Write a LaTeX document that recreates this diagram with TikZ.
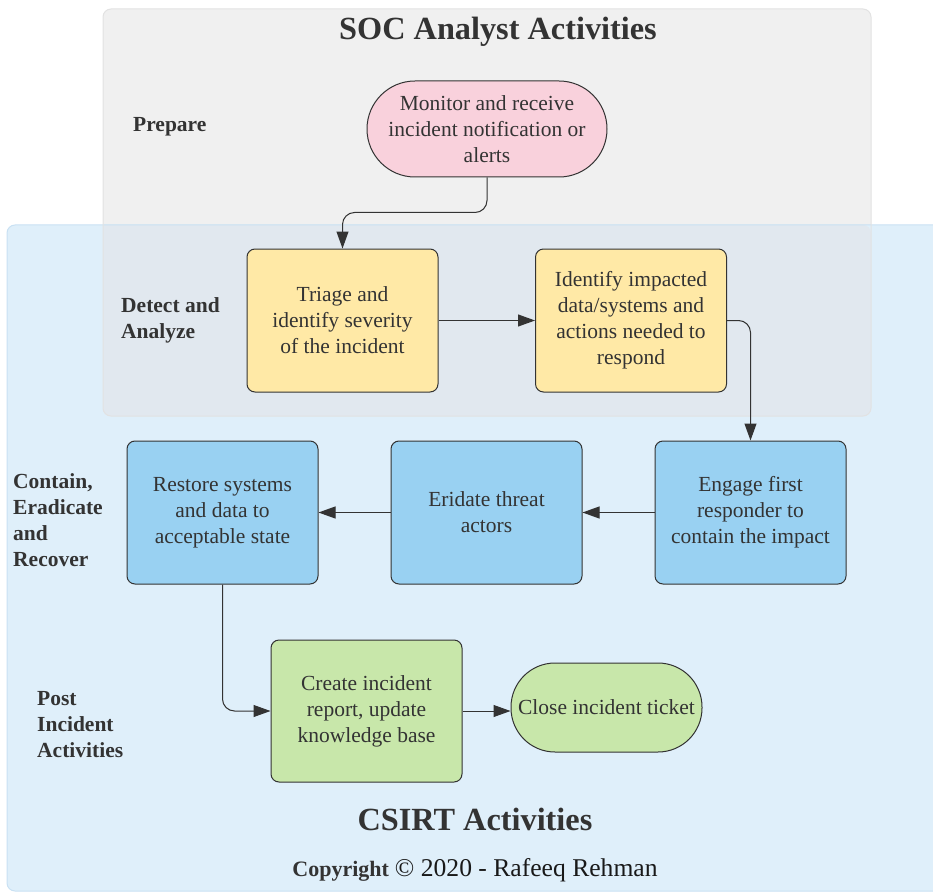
\documentclass[tikz,border=0pt]{standalone}
\usepackage{fontspec}
\setmainfont{Liberation Serif}
\usetikzlibrary{arrows.meta,calc}
\definecolor{graybg}{HTML}{F0F0F0}
\definecolor{grayln}{HTML}{E2E2E2}
\definecolor{bluebg}{HTML}{DFEFFA}
\definecolor{blueln}{HTML}{C9E1F3}
\definecolor{overlap}{HTML}{E1E8EF}
\definecolor{pinkf}{HTML}{F9D1DC}
\definecolor{yellowf}{HTML}{FFE9A6}
\definecolor{bluef}{HTML}{99D1F2}
\definecolor{greenf}{HTML}{C8E7AA}
\definecolor{ink}{HTML}{333333}
\tikzset{
  box/.style={draw=ink, line width=1pt, rounded corners=8pt, minimum width=191pt, minimum height=143pt, align=center, text=ink, font=\fontsize{21.5}{26}\selectfont, inner sep=1pt},
  stadium/.style={draw=ink, line width=1pt, align=center, text=ink, font=\fontsize{21.5}{26}\selectfont, inner sep=1pt},
  lane/.style={align=left, anchor=west, text=ink, font=\bfseries\fontsize{21.5}{26}\selectfont, inner sep=0pt},
  conn/.style={draw=ink, line width=1pt, rounded corners=12pt, -{Triangle[length=17pt,width=12pt]}},
  title/.style={text=ink, font=\bfseries\fontsize{32.3}{36}\selectfont, inner sep=0pt}
}
\begin{document}
\begin{tikzpicture}[x=1pt,y=-1pt]
\useasboundingbox (0,0) rectangle (933,893);
% backgrounds
\fill[graybg, rounded corners=8pt] (103,9) rectangle (871,416);
\fill[bluebg, rounded corners=8pt] (7,225) rectangle (960,891);
\fill[overlap, rounded corners=8pt] (103,225) -- (103,416) -- (871,416) -- (871,225) [sharp corners] -- cycle;
\draw[blueln, line width=1pt, rounded corners=8pt] (960,891) -- (7,891) -- (7,225) -- (960,225);
\draw[grayln, line width=1pt, rounded corners=8pt] (103,9) rectangle (871,416);
% titles
\node[title] (soc) at (498,32) {SOC Analyst Activities};
\node[title] (csirt) at (475,819) {CSIRT Activities};
\node[text=ink, inner sep=0pt, anchor=base] (copy) at (475,876) {{\bfseries\fontsize{22}{24}\selectfont Copyright}\hspace{6pt}{\fontsize{25.6}{28}\selectfont\color{black!90}© 2020 - Rafeeq Rehman}};
% lane labels
\node[lane] (lprep) at (133,127) {Prepare};
\node[lane] (ldet) at (121,320) {Detect and\\Analyze};
\node[lane] (lcon) at (13,520) {Contain,\\Eradicate\\and\\Recover};
\node[lane] (lpost) at (37,725) {Post\\Incident\\Activities};
% nodes
\node[stadium, fill=pinkf, rounded corners=48pt, minimum width=240pt, minimum height=96pt] (mon) at (487,129) {Monitor and receive\\incident notification or\\alerts};
\node[box, fill=yellowf] (tri) at (342.5,320.5) {Triage and\\identify severity\\of the incident};
\node[box, fill=yellowf] (ide) at (631,320.5) {Identify impacted\\data/systems and\\actions needed to\\respond};
\node[box, fill=bluef] (eng) at (750.5,512.5) {Engage first\\responder to\\contain the impact};
\node[box, fill=bluef] (eri) at (486.5,512.5) {Eridate threat\\actors};
\node[box, fill=bluef] (res) at (222.5,512.5) {Restore systems\\and data to\\acceptable state};
\node[box, fill=greenf, minimum height=142pt] (cre) at (366.5,711) {Create incident\\report, update\\knowledge base};
\node[stadium, fill=greenf, rounded corners=44pt, minimum width=191pt, minimum height=89pt] (clo) at (606.5,707.5) {Close incident ticket};
% connectors
\draw[conn] (mon.south) -- ($(mon.south)+(0,35)$) -| (tri.north);
\draw[conn] (tri.east) -- (ide.west);
\draw[conn] (ide.east) -| (eng.north);
\draw[conn] (eng.west) -- (eri.east);
\draw[conn] (eri.west) -- (res.east);
\draw[conn] (res.south) |- (cre.west);
\draw[conn] (cre.east) -- (clo.west |- cre.east);
\end{tikzpicture}
\end{document}
